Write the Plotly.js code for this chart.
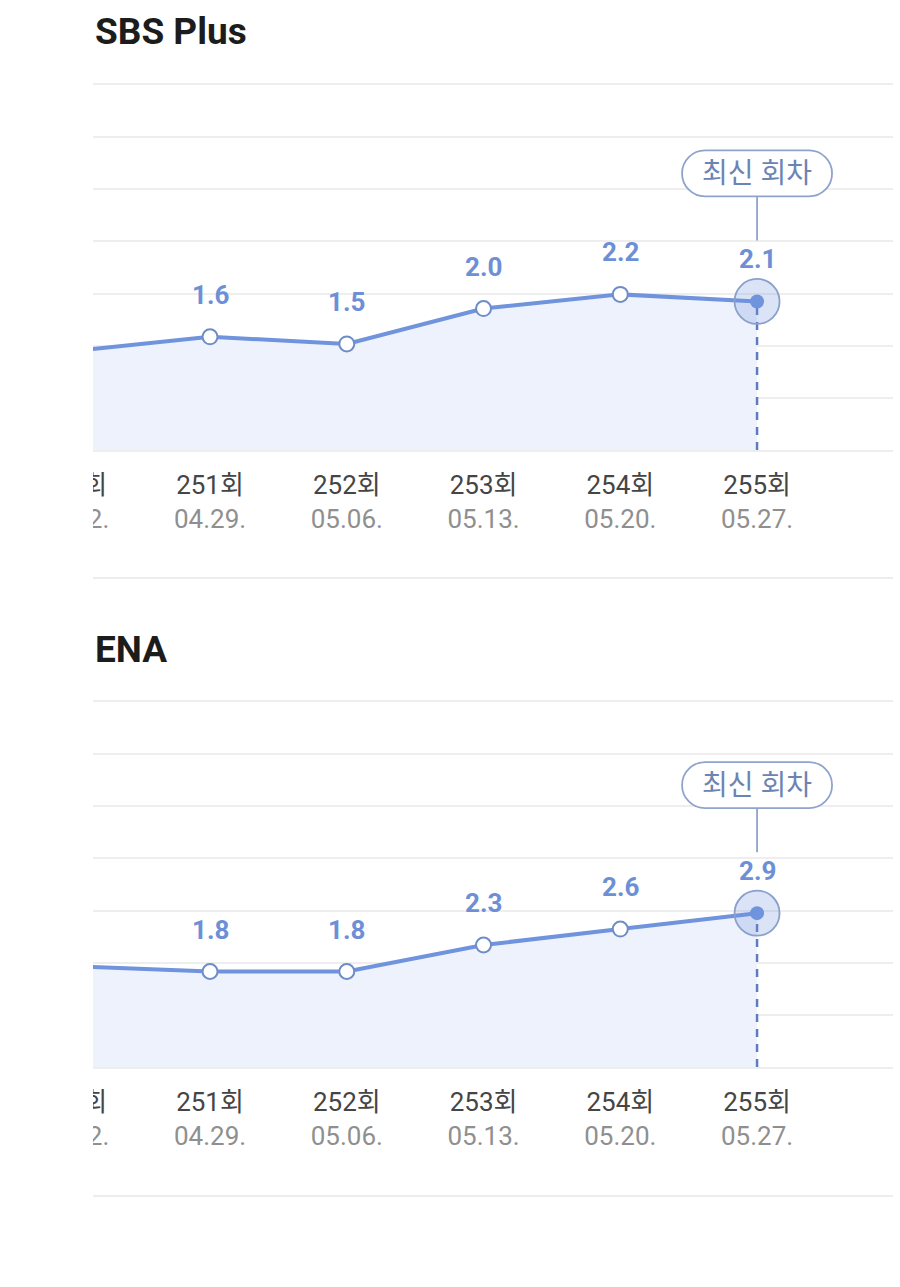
<!DOCTYPE html>
<html>
<head>
<meta charset="utf-8">
<script src="https://cdn.plot.ly/plotly-3.0.1.min.js"></script>
<style>
  html, body { margin: 0; padding: 0; background: #ffffff; }
  #clip { position: absolute; left: 93px; top: 0; width: 807px; height: 1287px; overflow: hidden; }
  #chart { position: absolute; left: -93px; top: 0; width: 900px; height: 1287px; }
</style>
</head>
<body>
<div id="clip"><div id="chart"></div></div>
<script>
// ---- data ----
const episodes = ['250', '251', '252', '253', '254', '255'];
const dates = ['04.22.', '04.29.', '05.06.', '05.13.', '05.20.', '05.27.'];
const sbsPlus = [1.4, 1.6, 1.5, 2.0, 2.2, 2.1];
const ena = [1.9, 1.8, 1.8, 2.3, 2.6, 2.9];
const channelNames = ['SBS Plus', 'ENA'];
const latestLabel = '최신 회차';

// ---- style ----
const FONT = 'Roboto, "Noto Sans CJK KR", sans-serif';
const LINE = '#6F93DC';
const LABEL = '#6D8FD6';
const FILL = '#EEF2FC';
const GRID = '#EEEEEE';
const PILL = '#8FA3CC';
const W = 900, H = 1287;

const cats = episodes.map(e => e + '회');
const tickText = episodes.map((e, i) => e + '회<br><span style="color:#8f8f8f">' + dates[i] + '</span>');

const panels = [
  { name: channelNames[0], values: sbsPlus, top: 85, bottom: 450, ymax: 5.16, titleY: 31, sepY: 578 },
  { name: channelNames[1], values: ena, top: 702, bottom: 1067, ymax: 6.88, titleY: 649, sepY: 1196 }
];

const data = [];
const annotations = [];
const shapes = [];
const layout = {
  width: W, height: H,
  margin: { l: 0, r: 0, t: 0, b: 0 },
  paper_bgcolor: '#ffffff', plot_bgcolor: '#ffffff',
  showlegend: false,
  hovermode: false,
  font: { family: FONT }
};

panels.forEach((p, k) => {
  const xa = k === 0 ? 'x' : 'x2';
  const ya = k === 0 ? 'y' : 'y2';
  const xKey = k === 0 ? 'xaxis' : 'xaxis2';
  const yKey = k === 0 ? 'yaxis' : 'yaxis2';
  const last = cats.length - 1;

  layout[xKey] = {
    domain: [0, 893 / W],
    anchor: ya,
    type: 'category',
    categoryarray: cats,
    range: [-0.5357, 5.994],
    tickvals: cats,
    ticktext: tickText,
    showgrid: false,
    zeroline: false,
    showline: true,
    mirror: true,
    linecolor: GRID,
    linewidth: 2,
    ticks: '',
    ticklabelstandoff: 11,
    tickfont: { family: FONT, size: 26, color: '#454545' },
    fixedrange: true
  };
  const ticks = [1, 2, 3, 4, 5, 6].map(i => p.ymax * i / 7);
  layout[yKey] = {
    domain: [1 - p.bottom / H, 1 - p.top / H],
    anchor: xa,
    range: [0, p.ymax],
    tickvals: ticks,
    showticklabels: false,
    showgrid: true,
    gridcolor: GRID,
    gridwidth: 2,
    zeroline: false,
    showline: false,
    fixedrange: true
  };

  // area + line
  data.push({
    type: 'scatter', mode: 'lines', xaxis: xa, yaxis: ya,
    x: cats, y: p.values,
    line: { color: LINE, width: 4 },
    fill: 'tozeroy', fillcolor: FILL
  });
  // dashed drop line from latest point to baseline
  data.push({
    type: 'scatter', mode: 'lines', xaxis: xa, yaxis: ya,
    x: [cats[last], cats[last]], y: [0, p.values[last]],
    line: { color: '#5F7DBE', width: 2.5, dash: '8px,7px' }
  });
  // hollow markers
  data.push({
    type: 'scatter', mode: 'markers', xaxis: xa, yaxis: ya,
    x: cats.slice(0, last), y: p.values.slice(0, last),
    marker: { size: 15, color: '#ffffff', line: { color: '#6E8CC8', width: 2 } }
  });
  // halo at latest
  data.push({
    type: 'scatter', mode: 'markers', xaxis: xa, yaxis: ya,
    x: [cats[last]], y: [p.values[last]],
    marker: { size: 45, color: 'rgba(111,147,220,0.25)', line: { color: '#8A9FCB', width: 1.8 } }
  });
  data.push({
    type: 'scatter', mode: 'markers', xaxis: xa, yaxis: ya,
    x: [cats[last]], y: [p.values[last]],
    marker: { size: 14, color: LINE, line: { width: 0 } }
  });

  // value labels
  cats.forEach((c, i) => {
    annotations.push({
      xref: xa, yref: ya, x: i, y: p.values[i],
      text: '<b>' + p.values[i].toFixed(1) + '</b>', showarrow: false,
      yshift: 42, yanchor: 'middle',
      font: { family: FONT, size: 26, color: LABEL }
    });
  });

  // pill with connector
  const k2 = 12.7;
  const x0 = -75, x1 = 75, yb = 105, yt = 151, r = 23, yc = 128;
  const pill = `M ${x0 + r},${yb} L ${x1 - r},${yb} C ${x1 - r + k2},${yb} ${x1},${yc - k2} ${x1},${yc} ` +
    `C ${x1},${yc + k2} ${x1 - r + k2},${yt} ${x1 - r},${yt} L ${x0 + r},${yt} ` +
    `C ${x0 + r - k2},${yt} ${x0},${yc + k2} ${x0},${yc} C ${x0},${yc - k2} ${x0 + r - k2},${yb} ${x0 + r},${yb} Z`;
  shapes.push({
    type: 'path', xref: xa, yref: ya,
    xsizemode: 'pixel', ysizemode: 'pixel',
    xanchor: last, yanchor: p.values[last],
    path: pill, fillcolor: '#ffffff', line: { color: PILL, width: 1.8 }, layer: 'above'
  });
  shapes.push({
    type: 'path', xref: xa, yref: ya,
    xsizemode: 'pixel', ysizemode: 'pixel',
    xanchor: last, yanchor: p.values[last],
    path: 'M 0,61 L 0,105', line: { color: PILL, width: 1.8 }, layer: 'above'
  });
  annotations.push({
    xref: xa, yref: ya, x: last, y: p.values[last],
    text: latestLabel, showarrow: false, yshift: 128, yanchor: 'middle',
    font: { family: FONT, size: 28, color: '#6C84B4' }
  });

  // title
  annotations.push({
    xref: 'paper', yref: 'paper', x: 93 / W, y: 1 - p.titleY / H,
    xanchor: 'left', yanchor: 'middle', showarrow: false,
    text: '<b>' + p.name + '</b>',
    font: { family: FONT, size: 37, color: '#1c1c1c' }
  });

  // separator
  shapes.push({
    type: 'line', xref: 'paper', yref: 'paper',
    x0: 93 / W, x1: 893 / W, y0: 1 - p.sepY / H, y1: 1 - p.sepY / H,
    line: { color: '#EDEDED', width: 2 }
  });
});

layout.annotations = annotations;
layout.shapes = shapes;

Plotly.newPlot('chart', data, layout, { staticPlot: true, displayModeBar: false });
</script>
</body>
</html>
